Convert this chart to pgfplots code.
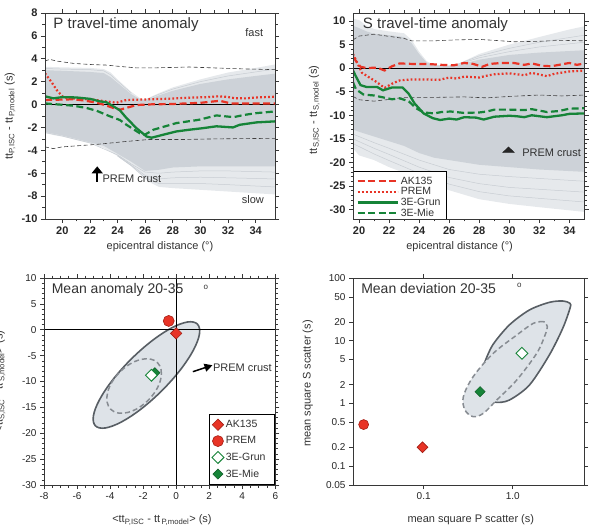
\documentclass[border=0pt]{standalone}
\usepackage{pgfplots}
\pgfplotsset{compat=1.18}
\usepackage{fontspec}
\setmainfont{Liberation Sans}
\usetikzlibrary{arrows.meta}

\definecolor{fancore}{RGB}{205,210,216}
\definecolor{fanedge}{RGB}{230,233,236}
\definecolor{fanline}{RGB}{200,205,211}
\definecolor{rd}{RGB}{232,52,38}
\definecolor{rdedge}{RGB}{165,30,20}
\definecolor{gn}{RGB}{22,132,56}
\definecolor{ellfill}{RGB}{222,227,232}
\definecolor{elledge}{RGB}{88,94,100}
\definecolor{ellin}{RGB}{135,140,146}
\definecolor{axc}{RGB}{55,55,55}
\definecolor{txt}{RGB}{50,50,50}

% line styles of the four reference models
\tikzset{
  akline/.style={draw=rd, line width=2.2pt, dash pattern=on 7pt off 3.5pt},
  premline/.style={draw=rd, line width=2.2pt, dash pattern=on 1.8pt off 2.2pt},
  grunline/.style={draw=gn, line width=2.3pt},
  mieline/.style={draw=gn, line width=2.2pt, dash pattern=on 7pt off 3.5pt},
  stdline/.style={draw=black!75, line width=0.6pt, dash pattern=on 4pt off 2.5pt},
}

\pgfplotsset{
  panel/.style={
    scale only axis, anchor=south west, axis on top,
    axis line style={axc, line width=0.9pt},
    tick align=outside, xtick pos=both, ytick pos=both,
    major tick length=4pt, minor tick length=2.5pt,
    every tick/.style={axc, line width=0.6pt},
    /pgf/number format/assume math mode=true,
    label style={font=\fontsize{11}{12}\selectfont, text=txt},
    tick label style={text=black!85},
  },
  toptick/.style={tick label style={font=\fontsize{11}{12}\selectfont\bfseries}},
  bottick/.style={tick label style={font=\fontsize{10}{11}\selectfont}},
  akmark/.style={only marks, mark=square*, mark size=4pt,
    mark options={rotate=45, fill=rd, draw=rdedge, line width=0.6pt}},
  premmark/.style={only marks, mark=*, mark size=5.5pt,
    mark options={fill=rd, draw=rdedge, line width=0.6pt}},
  grunmark/.style={only marks, mark=square*, mark size=4.2pt,
    mark options={rotate=45, fill=white, draw=gn, line width=0.9pt}},
  miemark/.style={only marks, mark=square*, mark size=3.6pt,
    mark options={rotate=45, fill=gn, draw=gn!70!black, line width=0.5pt}},
}

\begin{document}
\begin{tikzpicture}
\useasboundingbox (0pt,0pt) rectangle (596pt,527pt);

%% ---------------- P travel-time anomaly ----------------
\begin{axis}[panel, toptick, at={(45pt,308pt)}, width=230pt, height=206pt,
  xmin=18.75, xmax=35.4, ymin=-10, ymax=8,
  xtick={20,22,...,34}, ytick={-10,-8,...,8},
  minor x tick num=1, minor y tick num=1,
  xlabel={epicentral distance (°)},
  ylabel={tt\textsubscript{P,ISC} - tt\textsubscript{\,P,model} (s)},
  xlabel style={at={(axis description cs:0.5,-0.136)}, anchor=center},
  ylabel style={at={(axis description cs:-0.152,0.5)}, anchor=center},
]
% spread of the model ensemble: outer fringe, then dense core
\addplot[fill=fanedge, draw=none, forget plot] coordinates {
 (18.75,3.3) (20,3.25) (22,3.2) (23,3.1) (23.5,2.8) (24,2.2) (25,1.1) (25.7,0.5) (26,0.45)
 (27,1.0) (28,1.5) (30,2.2) (32,2.8) (34,3.2) (35.4,3.5)
 (35.4,-7.85) (34,-7.75) (32,-7.6) (30,-7.45) (28,-7.3) (27,-7.2) (26.5,-6.9) (26,-6.5)
 (25,-5.4) (24,-4.5) (23,-3.8) (22,-3.4) (21,-3.1) (20,-2.8) (19.5,-2.7) (18.75,-2.5)} \closedcycle;
\addplot[fill=fancore, draw=none, forget plot] coordinates {
 (18.75,3.0) (20,2.95) (21,2.9) (22,2.85) (23,2.75) (23.5,2.4) (24,1.9) (24.5,1.4) (25,0.9)
 (25.5,0.55) (26,0.35) (27,0.8) (28,1.2) (30,1.8) (32,2.2) (34,2.5) (35.4,2.7)
 (35.4,-5.4) (32,-5.4) (30,-5.4) (28,-5.5) (27,-5.7) (26,-5.8) (25,-5.0) (24,-4.3)
 (23,-3.6) (22,-3.3) (20,-2.7) (18.75,-2.4)} \closedcycle;
\addplot[fanline, line width=0.5pt, forget plot] coordinates {
 (18.75,-2.45) (20,-2.75) (22,-3.35) (24,-4.4) (25,-5.2) (26,-5.9) (27,-6.0) (28,-5.9) (30,-5.8) (32,-5.8) (35.4,-5.9)};
\addplot[fanline, line width=0.5pt, forget plot] coordinates {
 (24,-4.45) (25,-5.3) (26,-6.2) (27,-6.5) (28,-6.4) (30,-6.35) (32,-6.4) (35.4,-6.5)};
\addplot[fanline, line width=0.5pt, forget plot] coordinates {
 (24,-4.5) (25,-5.35) (26,-6.4) (27,-6.9) (28,-6.9) (30,-6.9) (32,-7.0) (35.4,-7.2)};
\addplot[fanline, line width=0.5pt, forget plot] coordinates {
 (26,0.4) (27,0.9) (28,1.35) (30,2.0) (32,2.5) (34,2.85) (35.4,3.1)};
\addplot[fanline, line width=0.5pt, forget plot] coordinates {
 (18.75,3.15) (20,3.1) (22,3.05) (23,2.95) (23.5,2.6) (24,2.05) (25,1.0)};
% one-sigma bounds
\addplot[stdline, forget plot] coordinates {
 (18.75,3.8) (19.1,3.95) (19.6,3.8) (20.8,3.6) (22,3.5) (23.2,3.45) (24,3.35) (25.4,3.2)
 (26.5,3.2) (29.2,3.28) (31,3.2) (33,3.12) (35.4,3.05)};
\addplot[stdline, forget plot] coordinates {
 (18.75,-3.7) (19.35,-3.85) (20,-3.7) (20.8,-3.63) (22.5,-3.48) (24.4,-3.25) (26.3,-3.05)
 (28.9,-3.05) (31,-3.0) (35.4,-2.95)};
\addplot[black, line width=0.9pt, forget plot] coordinates {(18.75,0) (35.4,0)};
% reference models
\addplot[akline] coordinates {
 (18.75,0.4) (19.5,0.42) (20.8,0.46) (21.6,0.35) (22.5,0.16) (23.1,-0.05) (23.7,-0.3) (24.2,-0.45)
 (24.6,-0.3) (25.4,-0.04) (26.5,0.02) (28,0.05) (30,0.15) (31.4,0.33) (32.2,0.1) (34,0.1) (35.4,0.1)};
\addplot[premline] coordinates {
 (18.75,2.73) (19.2,2.0) (19.6,1.27) (20.07,0.63) (21,0.5) (22,0.46) (23,0.3) (23.93,0.16)
 (24.65,0.4) (26.34,0.46) (27.5,0.5) (29.2,0.6) (30.5,0.65) (31.3,0.72) (31.9,0.68) (32.5,0.55)
 (33.3,0.54) (34,0.62) (35.4,0.68)};
\addplot[grunline] coordinates {
 (18.75,0.72) (19.35,0.54) (20,0.65) (21,0.62) (22,0.5) (22.72,0.28) (23.2,0.2) (23.7,-0.16)
 (24.17,-0.5) (24.65,-1.18) (25.37,-2.06) (26.1,-2.79) (26.46,-2.9) (27.3,-2.64) (28.26,-2.35)
 (29.2,-2.2) (30.2,-2.06) (31.16,-1.9) (32.36,-2.0) (32.84,-1.77) (34.05,-1.56) (35.4,-1.47)};
\addplot[mieline] coordinates {
 (18.75,0.1) (20,-0.02) (20.8,-0.1) (21.76,-0.3) (22.5,-0.55) (23.45,-1.03) (24.17,-1.35)
 (24.65,-1.77) (25.6,-2.5) (25.97,-2.64) (26.6,-2.2) (28.26,-1.62) (29.9,-1.33) (31.16,-0.95)
 (32.4,-1.1) (33.2,-0.9) (34.05,-0.75) (35.4,-0.6)};
\draw[black, line width=1.6pt, -{Triangle[width=11pt,length=7pt]}]
  (axis cs:22.53,-6.75) -- (axis cs:22.53,-5.4);
\node[anchor=west, font=\fontsize{11}{12}\selectfont, text=txt, inner sep=0pt] at (axis cs:22.9,-6.45) {PREM crust};
\node[anchor=west, font=\fontsize{15}{16}\selectfont, text=txt, inner sep=0pt] at (axis description cs:0.036,0.942) {P travel-time anomaly};
\node[font=\fontsize{11}{12}\selectfont, text=txt] at (axis cs:33.9,6.25) {fast};
\node[font=\fontsize{11}{12}\selectfont, text=txt] at (axis cs:33.8,-8.26) {slow};
\end{axis}

%% ---------------- S travel-time anomaly ----------------
\begin{axis}[panel, toptick, at={(353pt,308pt)}, width=231.7pt, height=206pt,
  xmin=19.6, xmax=35.02, ymin=-32, ymax=11.7,
  xtick={20,22,...,34}, ytick={-30,-25,...,10},
  minor x tick num=1, minor y tick num=4,
  xlabel={epicentral distance (°)},
  ylabel={tt\textsubscript{S,ISC} - tt\textsubscript{\,S,model} (s)},
  xlabel style={at={(axis description cs:0.46,-0.136)}, anchor=center},
  ylabel style={at={(axis description cs:-0.167,0.53)}, anchor=center},
  legend style={at={(axis description cs:0.006,-0.012)}, anchor=south west, draw=none, fill=none,
    font=\fontsize{10.5}{10.5}\selectfont, text=txt,
    inner xsep=2pt, inner ysep=1.5pt, row sep=-2.2pt, cells={anchor=west}},
  legend image code/.code={\draw[#1] (0pt,0pt) -- (40pt,0pt);},
]
\addplot[fill=fanedge, draw=none, forget plot] coordinates {
 (19.6,10.5) (20,10.2) (20.5,9.0) (21,8.3) (22,7.8) (23,7.4) (23.5,6.0) (24,3.5) (24.5,1.5)
 (25,0.7) (26,0.6) (26.5,0.8) (27,1.5) (28,3.0) (29,4.0) (30,5.0) (31,5.8) (32,6.6) (33,7.4)
 (34,8.2) (35.02,8.9)
 (35.02,-30.5) (32,-29.5) (30,-28.8) (28,-27.8) (26,-25.9) (25,-24.8) (24,-23.5) (23,-22.2)
 (22,-21) (21,-19.5) (20,-18.5) (19.6,-17)} \closedcycle;
\addplot[fill=fancore, draw=none, forget plot] coordinates {
 (19.6,9.0) (20,8.5) (20.5,7.8) (21,7.3) (22,7.0) (23,6.6) (23.5,5.3) (24,3.0) (24.5,1.2)
 (25,0.6) (26,0.5) (26.5,0.6) (27,1.0) (28,1.8) (30,2.8) (32,3.3) (35.02,3.8)
 (35.02,-22) (32,-21.5) (30,-21) (28,-20.5) (26,-19.5) (25,-19) (24,-18) (23,-16.5) (22,-15.5)
 (21,-14.5) (20,-13.5) (19.6,-13)} \closedcycle;
\addplot[fanline, line width=0.5pt, forget plot] coordinates {
 (19.6,-14) (21,-15.8) (22,-17) (24,-19.5) (26,-21.5) (28,-22.5) (30,-23) (35.02,-24)};
\addplot[fanline, line width=0.5pt, forget plot] coordinates {
 (19.6,-15) (21,-17) (22,-18.3) (24,-21) (26,-23.2) (28,-24.5) (30,-25.3) (35.02,-26.3)};
\addplot[fanline, line width=0.5pt, forget plot] coordinates {
 (19.6,-16) (21,-18.2) (22,-19.6) (24,-22.3) (26,-24.6) (28,-26.2) (30,-27.1) (35.02,-28.4)};
\addplot[fanline, line width=0.5pt, forget plot] coordinates {
 (26.5,0.7) (28,2.2) (30,3.5) (32,4.5) (35.02,5.5)};
\addplot[fanline, line width=0.5pt, forget plot] coordinates {
 (26.5,0.75) (28,2.6) (30,4.2) (32,5.5) (35.02,7.0)};
\addplot[stdline, forget plot] coordinates {
 (19.6,6.0) (20,6.8) (21,7.2) (22.1,6.7) (23,6.3) (23.5,5.8) (25,5.8) (26.5,6.0) (28,6.1) (29,5.9)
 (30.3,5.6) (32,5.7) (33.5,5.9) (35.02,5.8)};
\addplot[stdline, forget plot] coordinates {
 (19.6,-6.0) (20,-6.7) (21,-7.0) (22.1,-6.6) (23,-6.2) (25,-6.2) (27,-6.1) (28.5,-6.3) (30,-6.0)
 (32,-5.7) (33.5,-5.9) (35.02,-5.7)};
\addplot[black, line width=0.9pt, forget plot] coordinates {(19.6,0) (35.02,0)};
\addplot[akline] coordinates {
 (19.6,2.4) (19.8,1.5) (20.1,0.3) (20.5,0.0) (21,0.1) (21.3,0.0) (21.7,-0.5) (22.2,0.4) (22.7,1.0)
 (23.5,0.9) (24.5,0.9) (25.5,0.7) (26.3,0.6) (27,1.1) (27.6,0.9) (28.2,0.3) (28.7,0.9) (29.5,1.1)
 (30.3,1.1) (31,0.7) (31.5,1.0) (32.2,0.5) (32.8,0.4) (33.3,0.7) (34,1.1) (34.5,0.7) (35.02,1.0)};
\addlegendentry{AK135}
\addplot[premline] coordinates {
 (19.6,3.0) (19.9,1.0) (20.2,-1.0) (20.7,-2.0) (21.2,-3.0) (21.7,-4.2) (22.2,-3.3) (22.7,-2.6)
 (23.5,-2.4) (24.5,-2.4) (25.3,-2.5) (26,-2.0) (26.5,-2.2) (27,-1.8) (28,-2.0) (28.5,-1.6)
 (29,-1.3) (30,-1.1) (31,-1.5) (31.5,-1.0) (32.5,-1.7) (33,-1.2) (34,-0.7) (35.02,-0.5)};
\addlegendentry{PREM}
\addplot[grunline] coordinates {
 (19.6,-0.5) (19.8,-1.8) (20.1,-3.6) (20.5,-4.0) (21.2,-4.0) (21.6,-4.7) (22.2,-4.1) (22.9,-4.1)
 (23.3,-5.4) (23.7,-7.5) (24.3,-9.6) (24.9,-10.6) (25.4,-11.0) (26,-10.7) (26.5,-10.9) (27,-10.4)
 (27.8,-10.5) (28.3,-10.9) (29,-10.3) (30,-10.1) (30.5,-10.2) (31,-10.4) (31.5,-10.0) (32.5,-10.4)
 (33.5,-10.0) (34,-9.7) (35.02,-9.6)};
\addlegendentry{3E-Grun}
\addplot[mieline] coordinates {
 (19.6,-3.0) (19.8,-4.5) (20.3,-5.6) (21,-5.8) (21.6,-6.2) (22.2,-6.6) (22.7,-6.4) (23.3,-7.0)
 (23.8,-8.5) (24.3,-9.4) (25,-9.6) (25.5,-9.3) (26.1,-9.2) (27,-9.5) (28,-9.4) (28.5,-9.2)
 (29,-8.8) (30,-8.8) (31,-8.9) (31.5,-8.7) (32.5,-9.3) (33.3,-9.1) (34,-8.6) (35.02,-8.5)};
\addlegendentry{3E-Mie}
\addplot[only marks, mark=triangle*, mark size=5pt, forget plot,
  mark options={fill=black!85, draw=black!85, xscale=1.35, yscale=0.75}] coordinates {(29.95,-17.5)};
\node[anchor=west, font=\fontsize{11}{12}\selectfont, text=txt, inner sep=0pt] at (axis cs:30.85,-17.9) {PREM crust};
\node[anchor=west, font=\fontsize{15}{16}\selectfont, text=txt, inner sep=0pt] at (axis description cs:0.042,0.942) {S travel-time anomaly};
% frame behind the key
\draw[black, line width=0.8pt, fill=white] (axis description cs:0,0) rectangle (axis description cs:0.404,0.23);
\end{axis}

%% ---------------- Mean anomaly ----------------
\begin{axis}[panel, bottick, at={(44pt,42pt)}, width=231.3pt, height=207pt,
  xmin=-8, xmax=6, ymin=-30, ymax=10,
  xtick={-8,-6,...,6}, ytick={-30,-25,...,10},
  minor x tick num=3, minor y tick num=4,
  xlabel={<tt\textsubscript{P,ISC} - tt\textsubscript{\,P,model}> (s)},
  ylabel={<tt\textsubscript{S,ISC} - tt\textsubscript{\,S,model}> (s)},
  xlabel style={at={(axis description cs:0.51,-0.169)}, anchor=center},
  ylabel style={at={(axis description cs:-0.19,0.5)}, anchor=center},
  legend style={at={(1,0)}, anchor=south east, draw=black, line width=0.8pt,
    font=\fontsize{10.5}{10.5}\selectfont, text=txt,
    inner xsep=3pt, inner ysep=4pt, row sep=3.6pt, cells={anchor=west}},
]
\addplot[fill=ellfill, draw=elledge, line width=1.6pt, smooth cycle, tension=0.6, forget plot] coordinates {
 (1.285,1.096) (1.411,-0.804) (1.048,-3.912) (0.253,-7.751) (-0.857,-11.747) (-2.111,-15.285)
 (-3.314,-17.82) (-4.289,-18.98) (-4.885,-18.576) (-5.011,-16.676) (-4.648,-13.568)
 (-3.853,-9.729) (-2.743,-5.733) (-1.489,-2.195) (-0.286,0.34) (0.689,1.5)};
\addplot[draw=ellin, line width=1.5pt, dash pattern=on 5pt off 3pt, smooth cycle, tension=0.6, forget plot] coordinates {
 (-1.131,-6.362) (-0.91,-7.751) (-0.939,-9.615) (-1.211,-11.667) (-1.688,-13.602) (-2.295,-15.121)
 (-2.939,-15.989) (-3.524,-16.081) (-3.959,-15.378) (-4.18,-13.989) (-4.151,-12.125) (-3.879,-10.073)
 (-3.402,-8.138) (-2.795,-6.619) (-2.151,-5.751) (-1.566,-5.659)};
\addplot[black, line width=0.7pt, forget plot] coordinates {(-8,0) (6,0)};
\addplot[black, line width=0.7pt, forget plot] coordinates {(0,-30) (0,10)};
\addplot[miemark, forget plot] coordinates {(-1.29,-8.3)};
\addplot[akmark, forget plot] coordinates {(0.0,-0.7)};
\addplot[premmark, forget plot] coordinates {(-0.45,1.7)};
\addplot[grunmark, forget plot] coordinates {(-1.5,-8.8)};
\addlegendimage{akmark}\addlegendentry{\makebox[44pt][l]{AK135}}
\addlegendimage{premmark}\addlegendentry{PREM}
\addlegendimage{grunmark}\addlegendentry{3E-Grun}
\addlegendimage{miemark}\addlegendentry{3E-Mie}
\draw[black, line width=1.5pt, -{Triangle[width=8pt,length=8pt]}]
  (axis cs:1.01,-8.1) -- (axis cs:2.2,-6.85);
\node[anchor=west, font=\fontsize{11}{12}\selectfont, text=txt, inner sep=0pt] at (axis cs:2.22,-7.3) {PREM crust};
\node[anchor=west, font=\fontsize{14}{15}\selectfont, text=txt, inner sep=0pt] at (axis description cs:0.033,0.942) {Mean anomaly 20-35};
\node[font=\fontsize{8}{9}\selectfont, text=txt, inner sep=0pt] at (axis description cs:0.70,0.953) {o};
\end{axis}

%% ---------------- Mean deviation ----------------
\begin{axis}[panel, bottick, at={(353pt,42pt)}, width=231pt, height=207pt,
  xmode=log, ymode=log,
  xmin=0.0161, xmax=6.32, ymin=0.05, ymax=100,
  xtick={0.1,1}, xticklabels={0.1,1.0},
  ytick={0.05,0.1,0.2,0.5,1,2,5,10,20,50,100},
  yticklabels={0.05,0.1,0.2,0.5,1,2,5,10,20,50,100},
  xminorticks=false, yminorticks=false,
  xlabel={mean square P scatter (s)},
  ylabel={mean square S scatter (s)},
  xlabel style={at={(axis description cs:0.51,-0.169)}, anchor=center},
  ylabel style={at={(axis description cs:-0.196,0.49)}, anchor=center},
]
\addplot[fill=ellfill, draw=none, smooth cycle, tension=0.5, forget plot] coordinates {
 (4.40,39.5) (3.65,43.0) (2.58,40.9) (1.54,30.9) (0.916,17.8) (0.596,8.54) (0.480,4.36)
 (0.524,1.54) (0.649,1.04) (0.916,1.13) (1.54,1.96) (2.58,5.92) (3.65,15.8) (4.40,32.9)};
\addplot[draw=elledge, line width=1.6pt, smooth, tension=0.5, forget plot] coordinates {
 (0.480,4.36) (0.596,8.54) (0.916,17.8) (1.54,30.9) (2.58,40.9) (3.65,43.0) (4.40,39.5)
 (4.40,32.9) (3.65,15.8) (2.58,5.92) (1.54,1.96) (0.916,1.13) (0.649,1.04) (0.58,1.2)};
\addplot[fill=ellfill, draw=ellin, line width=1.5pt, dash pattern=on 5pt off 3pt, smooth cycle, tension=0.55, forget plot] coordinates {
 (2.37,18.9) (2.21,20.1) (1.70,18.9) (1.11,12.3) (0.605,6.29) (0.360,2.67) (0.279,1.28)
 (0.291,0.785) (0.360,0.614) (0.468,0.695) (0.661,1.13) (1.11,2.36) (1.86,6.29) (2.31,12.3) (2.45,16.7)};
\addplot[premmark, mark size=5pt] coordinates {(0.0212,0.46)};
\addplot[akmark, mark size=3.8pt] coordinates {(0.097,0.20)};
\addplot[miemark, mark size=3.6pt] coordinates {(0.43,1.54)};
\addplot[grunmark, mark size=4.2pt] coordinates {(1.27,6.3)};
\node[anchor=west, font=\fontsize{14}{15}\selectfont, text=txt, inner sep=0pt] at (axis description cs:0.035,0.947) {Mean deviation 20-35};
\node[font=\fontsize{8}{9}\selectfont, text=txt, inner sep=0pt] at (axis description cs:0.72,0.966) {o};
\end{axis}
\end{tikzpicture}
\end{document}
